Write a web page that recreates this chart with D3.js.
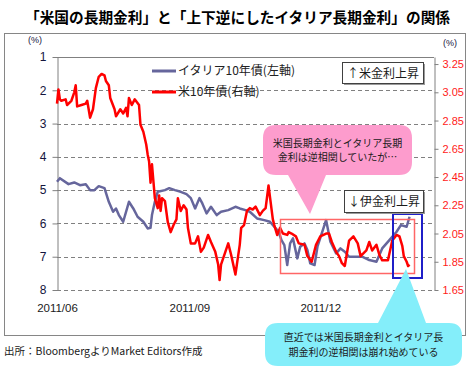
<!DOCTYPE html>
<html lang="ja">
<head>
<meta charset="utf-8">
<title>米国の長期金利とイタリア長期金利</title>
<script src="https://cdn.jsdelivr.net/npm/d3@7"></script>
<style>
    body { margin: 0; background: #fff; }
    svg { display: block; }
    .jp { font-family: "Noto Sans CJK JP", sans-serif; }
    .num { font-family: "Liberation Sans", Arial, sans-serif; }
    .grid line { stroke: #808080; stroke-dasharray: 4,3; }
</style>
</head>
<body>
<script>
    // イタリア10年債 (左軸, 上下逆)
    var itDates = ['2011-06-01','2011-06-03','2011-06-09','2011-06-13','2011-06-17','2011-06-21','2011-06-24','2011-06-27','2011-06-30',
        '2011-07-04','2011-07-07','2011-07-10','2011-07-12','2011-07-14','2011-07-17','2011-07-21','2011-07-24','2011-07-27','2011-07-31',
        '2011-08-03','2011-08-05','2011-08-06','2011-08-08','2011-08-10','2011-08-15','2011-08-18','2011-08-22','2011-08-26','2011-08-30',
        '2011-09-02','2011-09-05','2011-09-08','2011-09-10','2011-09-13','2011-09-16','2011-09-20','2011-09-23','2011-09-28',
        '2011-10-03','2011-10-06','2011-10-10','2011-10-13','2011-10-18','2011-10-23','2011-10-27','2011-10-31',
        '2011-11-02','2011-11-04','2011-11-06','2011-11-08','2011-11-10','2011-11-12','2011-11-15','2011-11-17','2011-11-20','2011-11-22','2011-11-24','2011-11-27','2011-11-29',
        '2011-12-02','2011-12-05','2011-12-08','2011-12-12','2011-12-15','2011-12-18','2011-12-21','2011-12-30',
        '2012-01-04','2012-01-09','2012-01-13','2012-01-18','2012-01-23','2012-01-26','2012-01-30','2012-02-01'];
    var itYield = [4.75,4.64,4.82,4.77,4.85,4.82,5.00,5.00,4.88,
        4.94,5.35,5.65,5.55,5.75,5.95,5.35,5.55,5.80,5.95,
        6.15,6.13,5.75,5.35,5.05,5.00,4.94,5.00,5.05,5.12,
        5.24,5.55,5.24,5.40,5.70,5.50,5.75,5.65,5.60,
        5.50,5.55,5.60,5.65,5.85,5.90,5.95,6.15,
        6.25,6.50,6.65,7.25,6.60,6.45,7.05,6.70,6.60,6.80,7.20,7.25,6.70,
        6.30,5.90,6.55,6.90,6.75,6.85,7.00,7.00,
        7.10,7.15,6.75,6.50,6.25,6.05,6.10,5.80];

    // 米10年債 (右軸)
    var usDates = ['2011-06-01','2011-06-02','2011-06-03','2011-06-04','2011-06-07','2011-06-08','2011-06-11','2011-06-13','2011-06-14','2011-06-15','2011-06-18','2011-06-21','2011-06-22','2011-06-24','2011-06-26','2011-06-28','2011-06-30',
        '2011-07-02','2011-07-04','2011-07-05','2011-07-07','2011-07-08','2011-07-11','2011-07-12','2011-07-15','2011-07-17','2011-07-19','2011-07-20','2011-07-21','2011-07-23','2011-07-25','2011-07-28','2011-07-29','2011-07-31',
        '2011-08-02','2011-08-03','2011-08-04','2011-08-05','2011-08-06','2011-08-07','2011-08-08','2011-08-10','2011-08-11','2011-08-12','2011-08-13','2011-08-15','2011-08-17','2011-08-19','2011-08-21','2011-08-23','2011-08-24','2011-08-26','2011-08-28','2011-08-30','2011-08-31',
        '2011-09-02','2011-09-05','2011-09-07','2011-09-09','2011-09-11','2011-09-14','2011-09-16','2011-09-19','2011-09-21','2011-09-22','2011-09-23','2011-09-26','2011-09-28','2011-09-30',
        '2011-10-03','2011-10-04','2011-10-06','2011-10-07','2011-10-09','2011-10-11','2011-10-13','2011-10-15','2011-10-17','2011-10-20','2011-10-22','2011-10-24','2011-10-26','2011-10-27','2011-10-29','2011-10-30',
        '2011-11-01','2011-11-03','2011-11-05','2011-11-08','2011-11-09','2011-11-11','2011-11-14','2011-11-16','2011-11-20','2011-11-22','2011-11-25','2011-11-28',
        '2011-12-01','2011-12-05','2011-12-07','2011-12-09','2011-12-12','2011-12-14','2011-12-16','2011-12-18','2011-12-21','2011-12-24','2011-12-27','2011-12-29',
        '2012-01-02','2012-01-04','2012-01-06','2012-01-09','2012-01-11','2012-01-13','2012-01-17','2012-01-20','2012-01-23','2012-01-25','2012-01-27','2012-01-28','2012-01-30','2012-01-31',
        '2012-02-01'];
    var usYield = [2.97,3.07,3.00,2.99,3.00,2.96,2.99,3.05,3.10,2.95,2.96,2.97,2.99,2.87,2.93,3.08,3.16,
        3.18,3.17,3.13,3.10,3.01,2.93,2.88,2.93,2.90,2.94,2.88,3.01,2.96,3.00,2.96,2.82,2.77,
        2.68,2.61,2.56,2.41,2.54,2.42,2.30,2.23,2.32,2.21,2.30,2.28,2.13,2.06,2.11,2.15,2.30,2.21,2.25,2.22,2.09,
        1.98,1.98,2.03,1.92,1.95,2.04,1.99,1.92,1.83,1.72,1.83,1.92,1.98,1.90,
        1.76,1.83,1.97,2.09,2.11,2.21,2.23,2.22,2.24,2.18,2.21,2.23,2.39,2.31,2.15,2.11,
        2.04,2.09,2.05,2.04,2.06,2.05,2.03,1.98,1.97,1.89,1.85,1.97,
        2.03,2.05,2.05,1.99,1.92,1.89,1.84,1.82,2.00,2.03,1.98,1.89,
        1.93,1.99,1.93,1.97,1.90,1.86,1.86,2.00,2.04,2.03,1.96,1.89,1.85,1.82,
        1.83];

    var leftTicks = [1, 2, 3, 4, 5, 6, 7, 8];
    var rightTicks = [3.25, 3.05, 2.85, 2.65, 2.45, 2.25, 2.05, 1.85, 1.65];
    var xTicks = ['2011-06-01', '2011-09-01', '2011-12-01'];
    var seriesNames = ['イタリア10年債(左軸)', '米10年債(右軸)'];

    var parse = d3.timeParse('%Y-%m-%d');
    var W = 471, H = 374;
    var plot = {left: 57, right: 434, top: 57, bottom: 290};

    var svg = d3.select('body').append('svg')
        .attr('width', W).attr('height', H);

    var x = d3.scaleTime()
        .domain([parse('2011-06-01'), parse('2012-02-18')])
        .range([plot.left, plot.right]);
    var yL = d3.scaleLinear().domain([1, 8]).range([plot.top, plot.bottom]);   // reversed
    var yR = d3.scaleLinear().domain([1.65, 3.30]).range([plot.bottom, plot.top]);

    // title
    svg.append('text').attr('class', 'jp')
        .attr('x', 25).attr('y', 23)
        .attr('textLength', 425).attr('lengthAdjust', 'spacingAndGlyphs')
        .style('font-size', '15px').style('font-weight', 'bold')
        .text('「米国の長期金利」と「上下逆にしたイタリア長期金利」の関係');

    // chart frame
    svg.append('rect')
        .attr('x', 4.5).attr('y', 33.5).attr('width', 461).attr('height', 302)
        .attr('fill', 'none').attr('stroke', '#868686');

    // gridlines
    svg.append('g').attr('class', 'grid')
        .selectAll('line').data(leftTicks.slice(1))
        .enter().append('line')
        .attr('x1', plot.left).attr('x2', plot.right)
        .attr('y1', function (d) { return Math.round(yL(d)) + 0.5; })
        .attr('y2', function (d) { return Math.round(yL(d)) + 0.5; });

    svg.append('line')
        .attr('x1', plot.left).attr('x2', plot.right)
        .attr('y1', plot.top + 0.5).attr('y2', plot.top + 0.5)
        .attr('stroke', '#808080');

    // left axis
    var gl = svg.append('g').attr('transform', 'translate(' + (plot.left + 0.5) + ',0)')
        .call(d3.axisLeft(yL).tickValues(leftTicks).tickSize(5).tickSizeOuter(0).tickPadding(6)
            .tickFormat(d3.format('d')));
    gl.select('.domain').attr('stroke', '#808080');
    gl.selectAll('.tick line').attr('stroke', '#808080');
    gl.selectAll('.tick text').attr('class', 'num')
        .style('font-size', '12px').attr('fill', '#14143c');

    // right axis
    var gr = svg.append('g').attr('transform', 'translate(' + (plot.right + 0.5) + ',0)')
        .call(d3.axisRight(yR).tickValues(rightTicks).tickSize(4).tickSizeOuter(0).tickPadding(4)
            .tickFormat(d3.format('.2f')));
    gr.select('.domain').attr('stroke', '#808080');
    gr.selectAll('.tick line').attr('stroke', '#808080');
    gr.selectAll('.tick text').attr('class', 'num')
        .style('font-size', '11px').attr('fill', '#ff1a1a');

    // x axis labels
    var gx = svg.append('g').attr('transform', 'translate(0,' + (plot.bottom + 11) + ')')
        .call(d3.axisBottom(x).tickValues(xTicks.map(parse)).tickSize(0)
            .tickFormat(d3.timeFormat('%Y/%m')));
    gx.select('.domain').remove();
    gx.selectAll('.tick text').attr('class', 'num')
        .style('font-size', '11.5px').attr('fill', '#1a1a1a');

    // (%) units
    svg.append('text').attr('class', 'num').attr('x', 28).attr('y', 43)
        .style('font-size', '9px').attr('fill', '#14143c').text('(%)');
    svg.append('text').attr('class', 'num').attr('x', 443).attr('y', 46)
        .style('font-size', '9px').attr('fill', '#14143c').text('(%)');

    // lines
    var itLine = d3.line()
        .x(function (d, i) { return x(parse(itDates[i])); })
        .y(function (d) { return yL(d); });
    var usLine = d3.line()
        .x(function (d, i) { return x(parse(usDates[i])); })
        .y(function (d) { return yR(d); });

    svg.append('path').datum(itYield)
        .attr('d', itLine).attr('fill', 'none')
        .attr('stroke', '#66669c').attr('stroke-width', 2.5)
        .attr('stroke-linejoin', 'round');
    svg.append('path').datum(usYield)
        .attr('d', usLine).attr('fill', 'none')
        .attr('stroke', '#ff0000').attr('stroke-width', 2.5)
        .attr('stroke-linejoin', 'round');

    // legend
    var legColors = ['#66669c', '#ff0000'];
    var leg = svg.append('g');
    seriesNames.forEach(function (name, i) {
        var ly = 71 + i * 21;
        leg.append('line').attr('x1', 152).attr('x2', 176)
            .attr('y1', ly).attr('y2', ly)
            .attr('stroke', legColors[i]).attr('stroke-width', 3);
        leg.append('text').attr('class', 'jp')
            .attr('x', 178).attr('y', ly + 4)
            .style('font-size', '12px').attr('fill', '#222')
            .text(name);
    });

    // highlight boxes
    svg.append('rect')
        .attr('x', 280.5).attr('y', 219.5).attr('width', 134).attr('height', 54)
        .attr('fill', 'none').attr('stroke', '#ff6666').attr('stroke-width', 1.5);
    svg.append('rect')
        .attr('x', 393).attr('y', 214).attr('width', 29).attr('height', 64)
        .attr('fill', 'none').attr('stroke', '#1f1fc8').attr('stroke-width', 2);

    // white label boxes
    function labelBox(bx, by, bw, bh, txt) {
        svg.append('rect').attr('x', bx + 2).attr('y', by + 2)
            .attr('width', bw).attr('height', bh).attr('fill', '#9a9a9a');
        svg.append('rect').attr('x', bx + 0.5).attr('y', by + 0.5)
            .attr('width', bw).attr('height', bh)
            .attr('fill', '#fff').attr('stroke', '#404040');
        svg.append('text').attr('class', 'jp')
            .attr('x', bx + bw / 2 + 0.5).attr('y', by + bh / 2 + 5)
            .attr('text-anchor', 'middle')
            .style('font-size', '12px').attr('fill', '#1a1a1a')
            .text(txt);
    }
    labelBox(342, 62, 81, 21, '↑米金利上昇');
    labelBox(344, 190, 79, 22, '↓伊金利上昇');

    // callouts
    function callout(bx, by, bw, bh, ptr, fill, lines) {
        var r = 13;
        var p = d3.path();
        p.moveTo(bx + r, by);
        if (ptr.side === 'top') {
            p.lineTo(ptr.a, by); p.lineTo(ptr.tx, ptr.ty); p.lineTo(ptr.b, by);
        }
        p.lineTo(bx + bw - r, by);
        p.quadraticCurveTo(bx + bw, by, bx + bw, by + r);
        p.lineTo(bx + bw, by + bh - r);
        p.quadraticCurveTo(bx + bw, by + bh, bx + bw - r, by + bh);
        if (ptr.side === 'bottom') {
            p.lineTo(ptr.b, by + bh); p.lineTo(ptr.tx, ptr.ty); p.lineTo(ptr.a, by + bh);
        }
        p.lineTo(bx + r, by + bh);
        p.quadraticCurveTo(bx, by + bh, bx, by + bh - r);
        p.lineTo(bx, by + r);
        p.quadraticCurveTo(bx, by, bx + r, by);
        p.closePath();
        svg.append('path').attr('d', p.toString()).attr('fill', fill);
        lines.forEach(function (t, i) {
            svg.append('text').attr('class', 'jp')
                .attr('x', bx + bw / 2).attr('y', by + bh / 2 + (i - (lines.length - 1) / 2) * 14.6 + 4)
                .attr('text-anchor', 'middle')
                .style('font-size', '10px').attr('fill', '#1a1a1a')
                .text(t);
        });
    }
    callout(263, 125, 149, 50, {side: 'bottom', a: 288, b: 326, tx: 310, ty: 214}, '#fd9ccd',
        ['米国長期金利とイタリア長期', '金利は逆相関していたが…']);
    callout(265, 323, 197, 43, {side: 'top', a: 378, b: 426, tx: 406, ty: 269}, '#84eefa',
        ['直近では米国長期金利とイタリア長', '期金利の逆相関は崩れ始めている']);

    // source
    svg.append('text').attr('class', 'jp')
        .attr('x', 4).attr('y', 355)
        .style('font-size', '10.5px').attr('fill', '#1a1a1a')
        .text('出所：BloombergよりMarket Editors作成');
</script>
</body>
</html>
